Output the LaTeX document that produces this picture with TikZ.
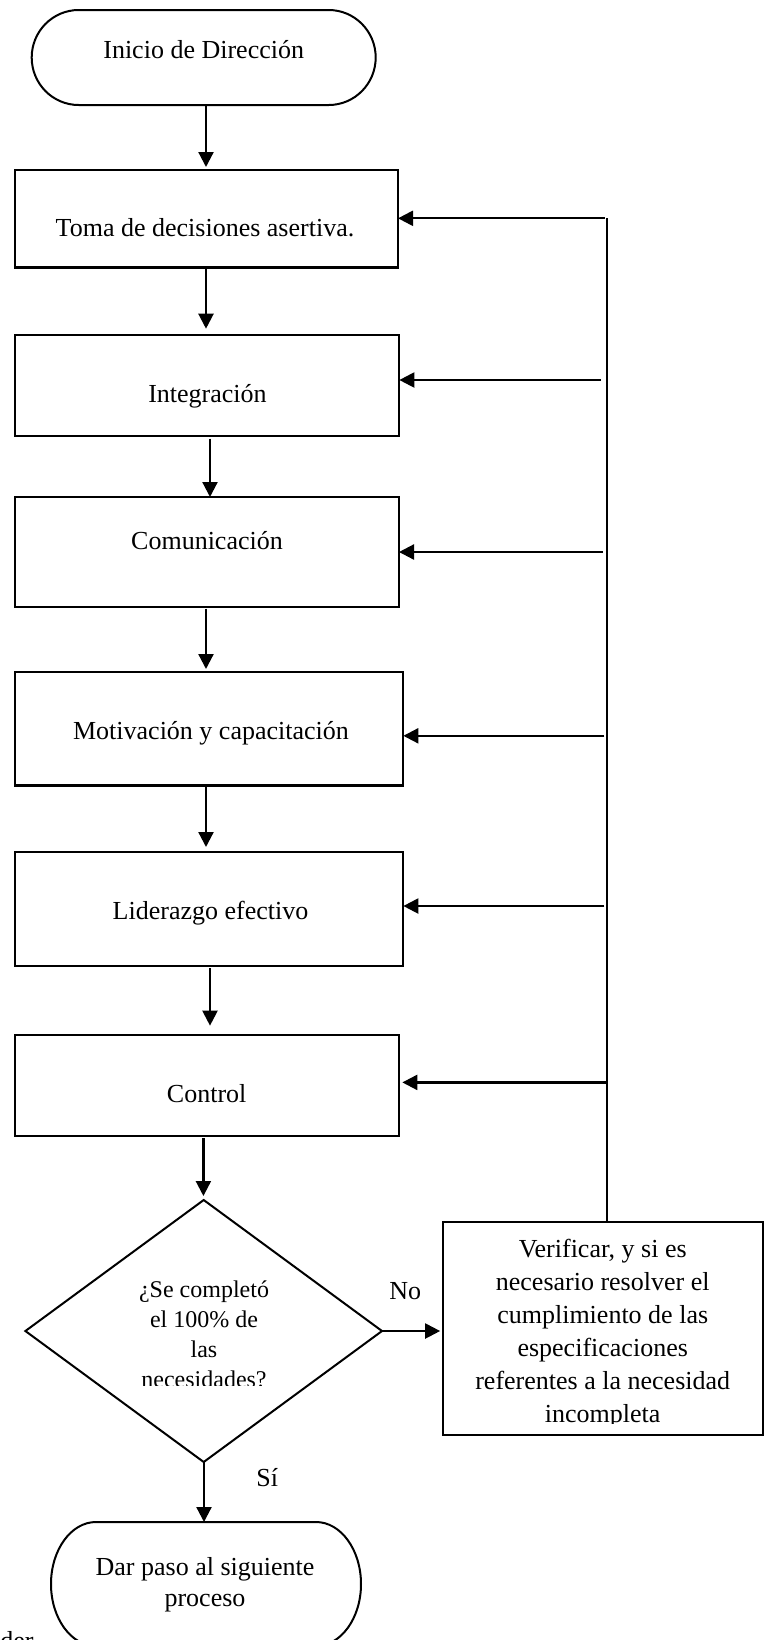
\documentclass[tikz,border=0pt]{standalone}
\usepackage{fontspec}
\setmainfont{Liberation Serif}
\usetikzlibrary{shapes.geometric,arrows.meta}

% terminator outline drawn over an invisible frame node: #1 node, #2 x radius, #3 y radius
\newcommand\termshape[3]{%
  \draw[line width=1pt] ([xshift=#2]#1.north west) -- ([xshift=-#2]#1.north east)
    arc[start angle=90,end angle=-90,x radius=#2,y radius=#3]
    -- ([xshift=#2]#1.south west)
    arc[start angle=270,end angle=90,x radius=#2,y radius=#3] -- cycle;}

\begin{document}
\begin{tikzpicture}[x=0.5pt,y=-0.5pt,
  stepbox/.style={draw,line width=1.1pt,inner sep=0pt,outer sep=0pt},
  term/.style={inner sep=0pt,outer sep=0pt},
  decision/.style={diamond,draw,line width=1pt,inner sep=0pt,outer sep=0pt,
    minimum width=178.3pt,minimum height=131pt},
  flow/.style={line width=1.1pt,-{Triangle[length=7.5pt,width=7.5pt]}},
  loopline/.style={line width=0.65pt},
  txt/.style={anchor=base,inner sep=0pt,font=\fontsize{13}{16}\selectfont},
  qtxt/.style={anchor=base,inner sep=0pt,font=\fontsize{12}{15}\selectfont},
]
\useasboundingbox (0,0) rectangle (764,1640);
\clip (0,0) rectangle (764,1640);

% terminators
\node[term,minimum width=172pt,minimum height=47.5pt] (start) at (203.7,57.5) {};
\termshape{start}{23.5pt}{23.75pt}
\node[term,minimum width=155pt,minimum height=62pt] (finish) at (206,1584) {};
\termshape{finish}{22.5pt}{31pt}

% process boxes
\node[stepbox,minimum width=191.5pt,minimum height=48.75pt] (b1) at (206.5,218.75) {};
\node[stepbox,minimum width=192.15pt,minimum height=50.5pt] (b2) at (207.2,385.2) {};
\node[stepbox,minimum width=192pt,minimum height=54.8pt] (b3) at (207,551.8) {};
\node[stepbox,minimum width=194.15pt,minimum height=56.7pt] (b4) at (209.2,728.7) {};
\node[stepbox,minimum width=194.15pt,minimum height=57pt] (b5) at (209.2,909) {};
\node[stepbox,minimum width=192.15pt,minimum height=50.55pt] (b6) at (207.2,1085.2) {};
\node[decision] (dec) at (203.7,1331) {};
\node[stepbox,minimum width=160.15pt,minimum height=106.65pt] (verify) at (602.9,1328.4) {};

% labels
\node[txt] (t0) at (203.7,58) {Inicio de Dirección};
\node[txt] (t1) at (205,236.7) {Toma de decisiones asertiva.};
\node[txt] (t2) at (207.5,402) {Integración};
\node[txt] (t3) at (207,549) {Comunicación};
\node[txt] (t4) at (211,739.5) {Motivación y capacitación};
\node[txt] (t5) at (210.5,919.5) {Liderazgo efectivo};
\node[txt] (t6) at (206.7,1102) {Control};
\node[txt] (t7) at (205,1575) {Dar paso al siguiente};
\node[txt] (t8) at (205,1606) {proceso};
\node[txt,anchor=base west] (tno) at (389,1299) {No};
\node[txt,anchor=base west] (tsi) at (256,1486) {Sí};
\node[txt,anchor=base west] (tder) at (0,1649) {der};

% question text, cut off at its last line
\begin{scope}
  \clip (100,1270) rectangle (310,1385);
  \foreach \line [count=\i from 0] in {¿Se completó,el 100\% de,las,necesidades?}
    \node[qtxt] (q\i) at (204,1297+30*\i) {\line};
\end{scope}

% text of the verification box, cut off at its last line
\begin{scope}
  \clip (446,1225) rectangle (760,1423.5);
  \foreach \line [count=\i from 0] in {{Verificar, y si es},necesario resolver el,cumplimiento de las,especificaciones,referentes a la necesidad,incompleta}
    \node[txt] (v\i) at (602.7,1257.5+33*\i) {\line};
\end{scope}

% x positions of the main column connectors
\coordinate (xa) at (206,0);
\coordinate (xb) at (210,0);
\coordinate (xc) at (203.4,0);
\coordinate (xd) at (204,0);

\draw[flow,shorten >=1.5pt] (start.south -| xa) -- (b1.north -| xa);
\draw[flow,shorten >=3pt] (b1.south -| xa) -- (b2.north -| xa);
\draw[flow,shorten <=1.5pt] (b2.south -| xb) -- (b3.north -| xb);
\draw[flow,shorten >=1.5pt,shorten <=1pt] (b3.south -| xa) -- (b4.north -| xa);
\draw[flow,shorten >=2.5pt,shorten <=1pt] (b4.south -| xa) -- (b5.north -| xa);
\draw[flow,shorten >=4.5pt,shorten <=1pt] (b5.south -| xb) -- (b6.north -| xb);
\draw[flow,shorten >=2pt,shorten <=1pt] (b6.south -| xc) -- (dec.north -| xc);
\draw[flow] (dec.south -| xd) -- (finish.north -| xd);
\draw[flow,shorten >=1.3pt] (dec.east) -- (verify.west |- dec.east);

% return path from the verification box
\coordinate (fbtop) at (607,218);
\draw[loopline] (fbtop) -- (verify.north -| fbtop);
\coordinate (f1) at (605,218.3);
\coordinate (f2) at (600.7,380);
\coordinate (f3) at (602.7,552);
\coordinate (f4) at (604.3,735.8);
\coordinate (f5) at (604.3,906);
\coordinate (f6) at (607,1082.4);
\draw[flow] (f1) -- (f1 -| b1.east);
\draw[flow] (f2) -- (f2 -| b2.east);
\draw[flow] (f3) -- (f3 -| b3.east);
\draw[flow] (f4) -- (f4 -| b4.east);
\draw[flow] (f5) -- (f5 -| b5.east);
\draw[flow,shorten >=1.5pt] (f6) -- (f6 -| b6.east);
\end{tikzpicture}
\end{document}
